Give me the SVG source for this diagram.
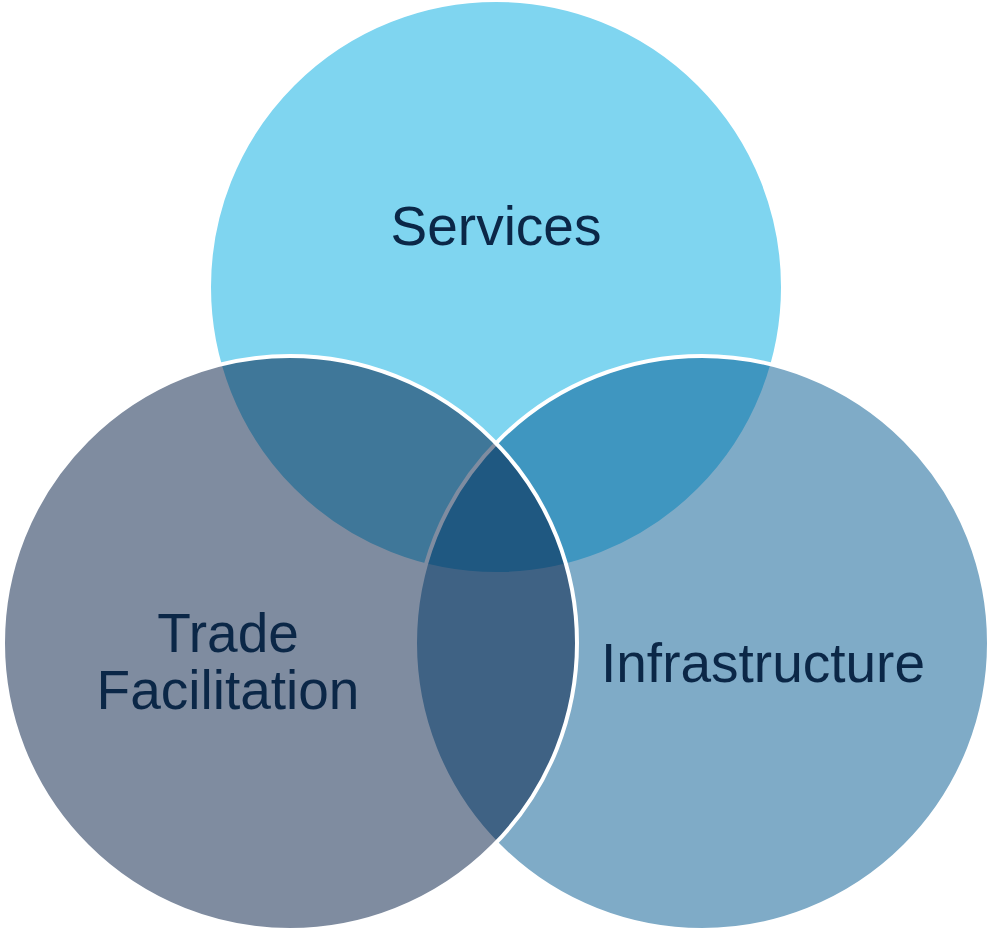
<svg xmlns="http://www.w3.org/2000/svg" width="988" height="930" viewBox="0 0 988 930">
  <style>
    .c { stroke: #ffffff; stroke-width: 4; fill-opacity: 0.5; }
    .t { font-family: "Liberation Sans", Arial, sans-serif; font-size: 55px; fill: #0b2747; text-anchor: middle; }
  </style>
  <rect width="988" height="930" fill="#ffffff"/>
  <g id="services">
    <circle class="c" cx="496" cy="287" r="287" fill="#00ABE1"/>
    <text class="t" x="496" y="245">Services</text>
  </g>
  <g id="infrastructure">
    <circle class="c" cx="702" cy="643" r="287" fill="#00578F"/>
    <text class="t" x="763" y="682">Infrastructure</text>
  </g>
  <g id="trade-facilitation">
    <circle class="c" cx="290" cy="643" r="287" fill="#001941"/>
    <text class="t" x="228" y="652">Trade</text>
    <text class="t" x="228" y="709">Facilitation</text>
  </g>
  <g id="connectors"></g>
</svg>
